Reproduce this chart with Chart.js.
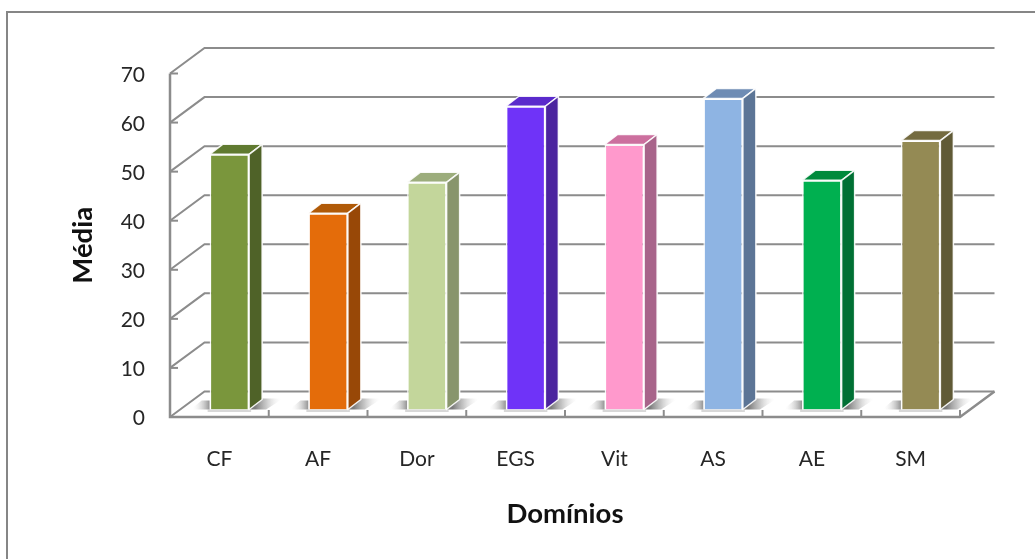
<!DOCTYPE html>
<html><head><meta charset="utf-8">
<script src="https://cdn.jsdelivr.net/npm/chart.js@4"></script>
<style>html,body{margin:0;padding:0;background:#fff;overflow:hidden}canvas{display:block}</style>
</head><body><div style="width:1035px;height:559px"><canvas id="c"></canvas></div>
<script>
const categories=["CF","AF","Dor","EGS","Vit","AS","AE","SM"];
const media=[52.0,40.0,46.3,61.8,54.0,63.4,46.7,54.8];
const frontColors=["#7A963C","#E46C0A","#C3D69B","#6F33F8","#FF99CC","#8EB4E3","#00B050","#948A54"];
const sideColors=["#4F6228","#984807","#88956C","#4B249F","#A8648A","#5C7596","#007034","#605A36"];
const topColors=["#607A30","#B05A08","#9CAD7C","#5A2ACC","#CC6F9E","#6E8CB4","#008A3C","#746B40"];
const FONT='Lato';
const BACK={x:34.5,y:-25.5}, BAR={x:10,y:-7.5}, DEPTH={x:13,y:-10};
const LINE="#8c8c8c";
const wall={id:'wall',beforeDatasetsDraw(ch){
  const c=ch.ctx,{left,right,top,bottom}=ch.chartArea,ys=ch.scales.y,xs=ch.scales.x;
  c.save();
  c.strokeStyle="#868686";c.lineWidth=2;c.beginPath();c.moveTo(7,559);c.lineTo(7,12);c.lineTo(1035,12);c.stroke();
  c.strokeStyle=LINE;c.lineWidth=2;
  ys.ticks.forEach(t=>{const y=ys.getPixelForValue(t.value);
    c.beginPath();c.moveTo(left,y);c.lineTo(left+BACK.x,y+BACK.y);c.lineTo(right+BACK.x,y+BACK.y);c.stroke();
    c.beginPath();c.moveTo(left,y);c.lineTo(left+8,y);c.stroke();});
  c.lineWidth=2.5;
  c.beginPath();c.moveTo(left,top);c.lineTo(left,bottom);c.lineTo(right,bottom);c.lineTo(right+BACK.x,bottom+BACK.y);c.stroke();
  c.lineWidth=2;
  categories.forEach((_,i)=>{const xt=xs.getPixelForValue(i)+(xs.getPixelForValue(1)-xs.getPixelForValue(0))/2;
    c.beginPath();c.moveTo(xt,bottom);c.lineTo(xt,bottom-7);c.stroke();});
  // soft floor shadows
  ch.getDatasetMeta(0).data.forEach(b=>{
    const L=b.x-b.width/2+BAR.x,R=b.x+b.width/2+BAR.x,B=b.base+BAR.y;
    let g=c.createLinearGradient(R+6,0,R+32,0);g.addColorStop(0,"rgba(110,110,110,.9)");g.addColorStop(.4,"rgba(165,165,165,.65)");g.addColorStop(1,"rgba(235,235,235,0)");
    c.fillStyle=g;c.beginPath();c.moveTo(R,B);c.lineTo(R+DEPTH.x,B+DEPTH.y-1);c.lineTo(R+34,B+DEPTH.y-1);c.lineTo(R+17,B);c.closePath();c.fill();
    g=c.createLinearGradient(L-17,0,L,0);g.addColorStop(0,"rgba(235,235,235,0)");g.addColorStop(1,"rgba(135,135,135,.9)");
    c.fillStyle=g;c.beginPath();c.moveTo(L-19,B);c.lineTo(L-8,B-9);c.lineTo(L,B-9);c.lineTo(L,B);c.closePath();c.fill();
    c.fillStyle="rgba(190,190,190,.6)";c.fillRect(L-2,B,R-L+4,2.5);
  });
  c.restore();
  c.save();c.translate(BAR.x,BAR.y);
},afterDatasetsDraw(ch){
  const c=ch.ctx;c.restore();c.save();
  c.strokeStyle="rgba(255,255,255,.9)";c.lineWidth=1.5;c.lineJoin="round";
  ch.getDatasetMeta(0).data.forEach((b,i)=>{
    const L=b.x-b.width/2+BAR.x,R=b.x+b.width/2+BAR.x,T=b.y+BAR.y,B=b.base+BAR.y;
    c.fillStyle=topColors[i];c.beginPath();c.moveTo(L,T);c.lineTo(L+DEPTH.x,T+DEPTH.y);c.lineTo(R+DEPTH.x,T+DEPTH.y);c.lineTo(R,T);c.closePath();c.fill();c.stroke();
    c.fillStyle=sideColors[i];c.beginPath();c.moveTo(R,T);c.lineTo(R+DEPTH.x,T+DEPTH.y);c.lineTo(R+DEPTH.x,B+DEPTH.y);c.lineTo(R,B);c.closePath();c.fill();c.stroke();
  });
  c.restore();
}};
new Chart(document.getElementById('c'),{
  type:'bar',
  data:{labels:categories,datasets:[{label:'Média',data:media,backgroundColor:frontColors,borderColor:"rgba(255,255,255,.9)",borderWidth:1.5,barPercentage:0.8,categoryPercentage:0.5}]},
  plugins:[wall],
  options:{responsive:true,maintainAspectRatio:false,animation:false,devicePixelRatio:1,
    layout:{padding:{left:0,top:73.5,right:75,bottom:0}},
    plugins:{legend:{display:false},tooltip:{enabled:false}},
    scales:{
      x:{afterFit:s=>{s.height=142},grid:{display:false,drawTicks:false},border:{display:false},
         ticks:{padding:30,color:"#262626",font:{family:FONT,size:21}},
         title:{display:true,text:"Domínios",color:"#111",font:{family:FONT,size:27.5,weight:'bold'},padding:{top:0,bottom:28}}},
      y:{min:0,max:70,afterFit:s=>{s.width=170},grid:{display:false,drawTicks:false},border:{display:false},
         ticks:{stepSize:10,padding:25,labelOffset:1.5,color:"#262626",font:{family:FONT,size:21}},
         title:{display:true,text:"Média",color:"#111",font:{family:FONT,size:27.5,weight:'bold'},padding:{top:67,bottom:0}}}
    }}
});
</script></body></html>
